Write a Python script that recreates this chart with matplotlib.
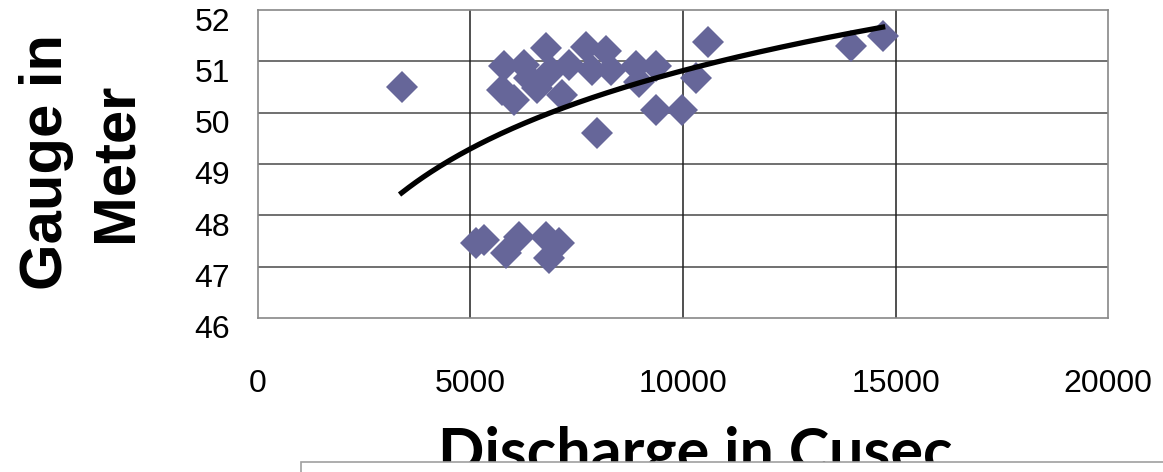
import numpy as np
import matplotlib
matplotlib.use("Agg")
import matplotlib.pyplot as plt
from matplotlib.patches import Rectangle
from matplotlib.transforms import ScaledTranslation

# discharge (cusec) vs gauge (m)
discharge = [3380, 5798, 5751, 6033, 6268, 6385, 6573, 6784, 6901, 7160, 7324,
             7723, 7864, 8192, 8310, 7981, 8897, 8967, 9366, 9366, 9977,
             10305, 10587, 13944, 14695,
             5141, 5329, 5845, 6150, 6784, 7089, 6854]
gauge = [50.50, 50.91, 50.44, 50.25, 50.93, 50.67, 50.48, 51.26, 50.81, 50.34, 50.93,
         51.28, 50.83, 51.20, 50.83, 49.60, 50.91, 50.60, 50.91, 50.05, 50.05,
         50.68, 51.38, 51.30, 51.49,
         47.46, 47.52, 47.27, 47.58, 47.58, 47.46, 47.17]

# log trendline y = a*ln(x) + b
trend_a = 2.197
trend_b = 30.585

x_ticks = [0, 5000, 10000, 15000, 20000]
y_ticks = [46, 47, 48, 49, 50, 51, 52]

plt.rcParams['font.family'] = ['Liberation Sans', 'DejaVu Sans']

fig = plt.figure(figsize=(11.63, 4.72), dpi=100)
ax = fig.add_axes([0.2218, 0.3263, 0.731, 0.6525])

x = np.array(discharge, dtype=float)
y = np.array(gauge, dtype=float)

xt = np.linspace(x.min(), x.max(), 200)
ax.plot(xt, trend_a * np.log(xt) + trend_b, color='black', lw=3.8, zorder=4)

ax.plot(x, y, 'D', color='#666699', markersize=16, markeredgewidth=0, zorder=3)

ax.set_xlim(0, 20000)
ax.set_ylim(46, 52)
ax.set_xticks(x_ticks)
ax.set_yticks(y_ticks)
ax.tick_params(length=0, labelsize=23)
ax.tick_params(axis='x', pad=37)
ax.tick_params(axis='y', pad=20)
for lab in ax.get_yticklabels():
    lab.set_transform(lab.get_transform() + ScaledTranslation(0, -0.09, fig.dpi_scale_trans))

for yv in y_ticks[1:-1]:
    ax.axhline(yv, color='#707070', lw=1.4, zorder=1)
for xv in x_ticks[1:-1]:
    ax.axvline(xv, color='#202020', lw=1.1, zorder=1)
for s in ax.spines.values():
    s.set_color('#888888')
    s.set_linewidth(1.2)

fig.text(0.0697, 0.657, 'Gauge in\nMeter', rotation=90, ha='center', va='center',
         multialignment='center', fontsize=43, fontweight='bold', linespacing=1.35)

fig.text(0.598, 0.002, 'Discharge in Cusec', ha='center', va='baseline',
         fontsize=44, fontweight='bold', family=['Lato', 'DejaVu Sans'])

# box that hides the lower part of the x title
fig.patches.append(Rectangle((301 / 1163, -0.1), 1.0, 0.1 + 10 / 472,
                             transform=fig.transFigure, facecolor='white',
                             edgecolor='#a0a0a0', lw=1.2, zorder=10))

fig.savefig('out.png', dpi=100)
